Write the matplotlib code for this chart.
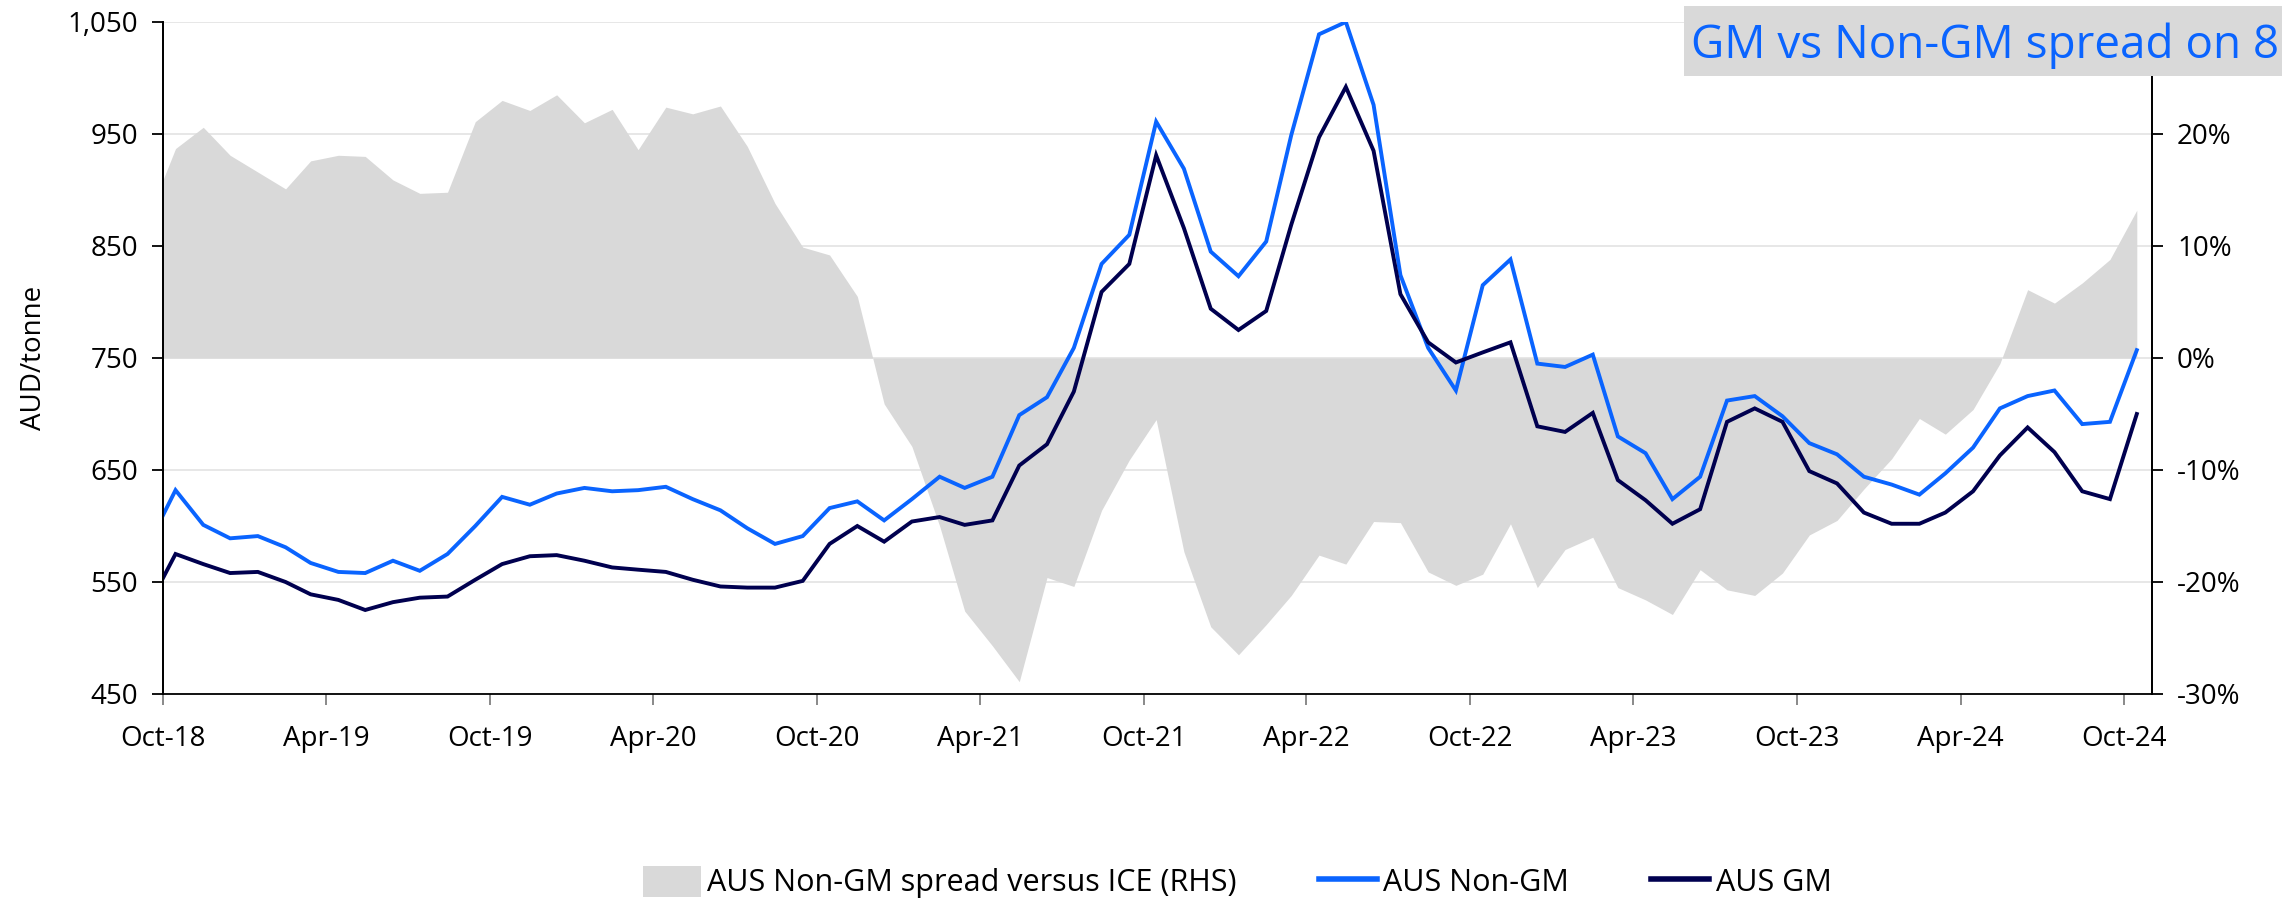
import matplotlib
matplotlib.use("Agg")
import matplotlib.pyplot as plt
import matplotlib.dates as mdates
from matplotlib.patches import Patch, Rectangle
from matplotlib.lines import Line2D
from matplotlib.ticker import FuncFormatter, FixedLocator
import pandas as pd

plt.rcParams['font.family'] = ['Open Sans', 'DejaVu Sans']

# Monthly observations (mid-month), Sep-18 .. Oct-24
dates = pd.date_range('2018-09-01', periods=74, freq='MS') + pd.Timedelta(days=14)

non_gm = [584,
          632, 601, 589, 591, 581, 567, 559, 558, 569, 560, 575, 600,
          626, 619, 629, 634, 631, 632, 635, 624, 614, 598, 584, 591,
          616, 622, 605, 624, 644, 634, 644, 699, 715, 759, 834, 860,
          961, 919, 845, 823, 854, 949, 1039, 1050, 976, 824, 759, 721,
          815, 838, 745, 742, 753, 680, 665, 624, 644, 712, 716, 698,
          674, 664, 644, 637, 628, 647, 670, 705, 716, 721, 691, 693,
          757]

gm = [529,
      575, 566, 558, 559, 550, 539, 534, 525, 532, 536, 537, 552,
      566, 573, 574, 569, 563, 561, 559, 552, 546, 545, 545, 551,
      584, 600, 586, 604, 608, 601, 605, 654, 673, 720, 809, 834,
      931, 866, 794, 775, 792, 869, 947, 992, 935, 807, 764, 746,
      755, 764, 689, 684, 701, 641, 623, 602, 615, 693, 705, 693,
      649, 638, 612, 602, 602, 612, 631, 663, 688, 666, 631, 624,
      700]

spread = [12.7,
          18.7, 20.6, 18.1, 16.6, 15.1, 17.6, 18.1, 18.0, 15.9, 14.7, 14.8, 21.1,
          23.0, 22.1, 23.5, 21.0, 22.2, 18.6, 22.4, 21.8, 22.5, 18.9, 13.8, 9.9,
          9.2, 5.5, -4.1, -7.9, -15.0, -22.6, -25.7, -28.9, -19.6, -20.4, -13.6, -9.1,
          -5.5, -17.3, -24.0, -26.5, -23.8, -21.2, -17.6, -18.4, -14.6, -14.7, -19.1, -20.3,
          -19.3, -14.8, -20.5, -17.1, -16.0, -20.5, -21.6, -22.9, -18.9, -20.7, -21.2, -19.2,
          -15.8, -14.5, -11.7, -9.0, -5.4, -6.8, -4.6, -0.5, 6.1, 4.9, 6.7, 8.8,
          13.2]

left_ticks = [450, 550, 650, 750, 850, 950, 1050]
right_ticks = [-30, -20, -10, 0, 10, 20]
grid_levels = [-30, -20, -10, 0, 10, 20, 30]
x_ticks = pd.date_range('2018-10-01', '2024-10-01', freq='6MS')

BLUE = '#0A64FF'
NAVY = '#00004F'
GREY = '#D9D9D9'
FS = 20

fig = plt.figure(figsize=(22.82, 8.99), dpi=100)
W, H = 2282, 899
ax = fig.add_axes([163 / W, 1 - 694 / H, (2152 - 163) / W, (694 - 22) / H])
ax2 = ax.twinx()

# Horizontal gridlines behind everything
for g in grid_levels:
    ax.axhline(g, color='#E3E3E3', linewidth=1.2, zorder=0)

# Spread area (right-hand scale) on the base axes
ax.fill_between(dates, 0, spread, color=GREY, linewidth=0, zorder=2)
ax.set_ylim(-30, 30)
ax.yaxis.set_major_locator(FixedLocator(right_ticks))
ax.yaxis.set_major_formatter(FuncFormatter(lambda v, p: f'{v:.0f}%'))

# Price lines (left-hand scale)
ax2.plot(dates, non_gm, color=BLUE, linewidth=2.8, solid_joinstyle='miter', label='AUS Non-GM')
ax2.plot(dates, gm, color=NAVY, linewidth=2.8, solid_joinstyle='miter', label='AUS GM')
ax2.set_ylim(450, 1050)
ax2.yaxis.set_major_locator(FixedLocator(left_ticks))
ax2.yaxis.set_major_formatter(FuncFormatter(lambda v, p: f'{v:,.0f}'))

ax.set_xlim(pd.Timestamp('2018-10-01'), pd.Timestamp('2024-11-01'))
ax.xaxis.set_major_locator(FixedLocator(mdates.date2num(x_ticks)))
ax.xaxis.set_major_formatter(mdates.DateFormatter('%b-%y'))

# swap sides: base axes (spread) on the right, twin (prices) on the left
ax.yaxis.tick_right()
ax.yaxis.set_label_position('right')
ax2.yaxis.tick_left()
ax2.yaxis.set_label_position('left')
ax2.set_ylabel('AUD/tonne', fontsize=FS, labelpad=14)

for a in (ax, ax2):
    a.spines['top'].set_visible(False)
    for s in ('left', 'right', 'bottom'):
        a.spines[s].set_color('#000000')
        a.spines[s].set_linewidth(1.3)
ax2.spines['bottom'].set_visible(False)

ax.tick_params(axis='x', direction='out', length=8, width=1.3, color='#808080',
               labelsize=FS, pad=14, labelcolor='#000000')
ax.tick_params(axis='y', which='both', direction='out', length=8, width=1.3, color='#000000',
               labelsize=FS, pad=10, right=True, left=False, labelright=True, labelleft=False)
ax2.tick_params(axis='y', which='both', direction='out', length=8, width=1.3, color='#000000',
                labelsize=FS, pad=10, left=True, right=False, labelleft=True, labelright=False)

# Legend
handles = [Patch(facecolor=GREY, edgecolor='none', label='AUS Non-GM spread versus ICE (RHS)'),
           Line2D([], [], color=BLUE, linewidth=4, label='AUS Non-GM'),
           Line2D([], [], color=NAVY, linewidth=4, label='AUS GM')]
fig.legend(handles=handles, loc='center', bbox_to_anchor=(1237 / W, 1 - 882 / H), ncol=3,
           frameon=False, fontsize=22, handlelength=1.9, handleheight=1.2,
           handletextpad=0.2, columnspacing=2.7)

# Title box, clipped at the right edge
fig.patches.append(Rectangle((1684 / W, 1 - 76 / H), 0.5, 70 / H, transform=fig.transFigure,
                             facecolor=GREY, edgecolor='none', zorder=10))
fig.text(1691 / W, 1 - 58 / H, 'GM vs Non-GM spread on 8', color=BLUE, fontsize=33,
         ha='left', va='baseline', zorder=11)

fig.savefig('out.png', dpi=100)
